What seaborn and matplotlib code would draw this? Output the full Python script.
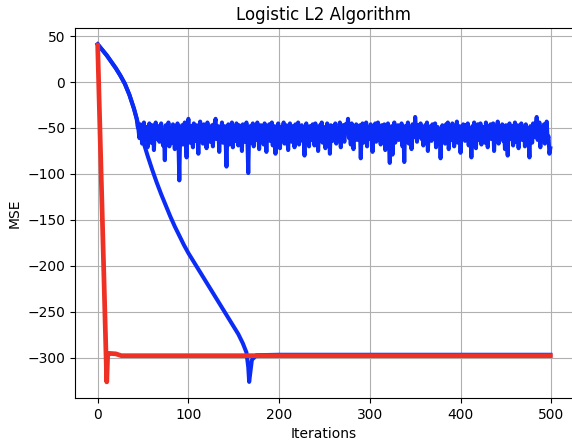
import numpy as np
import pandas as pd
import seaborn as sns
import matplotlib
matplotlib.use("Agg")
import matplotlib.pyplot as plt

# smooth blue run
smooth_iter = [0, 5, 10, 15, 20, 25, 30, 35, 40, 45, 50, 55, 60, 65, 70, 75, 80, 85, 90, 95,
               100, 110, 120, 130, 140, 150, 155, 160, 164, 166, 167, 168, 170, 175, 200,
               250, 300, 350, 400, 450, 499]
smooth_mse = [41, 35, 29, 22, 15, 7, -2, -14, -29, -47, -64, -80, -95, -109, -122, -134, -146, -157, -167, -177,
              -186, -202, -218, -234, -250, -266, -274, -284, -294, -310, -326, -318, -302, -297, -296.5,
              -296.5, -296.5, -296.5, -296.5, -296.5, -296.5]

# noisy blue run: same start, then jitters around -55 from iteration 44
noisy_start_iter = [0, 5, 10, 15, 20, 25, 30, 35, 40, 43]
noisy_start_mse = [41, 35, 29, 22, 15, 7, -2, -14, -29, -40]
noisy_iter = list(range(44, 500))
noisy_mse = [
    -48, -52, -61, -46, -55, -67, -50, -44, -58, -63, -49, -71, -54, -45, -60, -66, -47, -53, -74, -51, -44, -62, -57, -48,
    -65, -50, -45, -59, -69, -53, -85, -47, -56, -62, -44, -70, -51, -58, -66, -46, -54, -73, -49, -61, -45, -64, -107, -52,
    -57, -47, -68, -53, -44, -63, -82, -50, -40, -55, -66, -48, -59, -71, -45, -52, -64, -47, -57, -78, -50, -43, -61, -54,
    -67, -46, -58, -52, -72, -44, -60, -49, -65, -55, -47, -70, -53, -45, -40, -62, -56, -48, -76, -51, -59, -44, -66, -53,
    -48, -63, -92, -55, -46, -68, -51, -59, -44, -71, -57, -49, -64, -45, -53, -69, -47, -60, -52, -75, -46, -58, -65, -50,
    -44, -61, -99, -54, -48, -66, -52, -45, -70, -57, -49, -63, -44, -55, -73, -50, -47, -62, -56, -68, -45, -53, -76, -49,
    -59, -46, -64, -51, -44, -69, -55, -48, -78, -53, -61, -45, -57, -72, -49, -63, -52, -44, -67, -56, -47, -60, -74, -50,
    -45, -58, -65, -48, -53, -71, -46, -62, -55, -44, -68, -51, -59, -47, -64, -57, -80, -49, -45, -61, -54, -70, -48, -56,
    -63, -46, -52, -69, -45, -58, -50, -75, -55, -47, -62, -44, -66, -53, -49, -72, -57, -45, -60, -51, -78, -47, -56, -64,
    -48, -54, -45, -67, -58, -50, -62, -44, -71, -52, -47, -59, -65, -46, -55, -49, -40, -61, -53, -68, -45, -57, -73, -50,
    -56, -46, -63, -51, -58, -47, -83, -54, -45, -66, -52, -60, -44, -70, -49, -57, -62, -46, -53, -76, -48, -59, -45, -65,
    -51, -44, -60, -55, -68, -47, -53, -62, -46, -74, -50, -58, -45, -64, -88, -52, -48, -79, -56, -44, -66, -53, -59, -47,
    -63, -50, -56, -45, -70, -54, -87, -48, -61, -52, -44, -67, -57, -49, -73, -46, -55, -60, -38, -51, -65, -47, -58, -53,
    -45, -62, -50, -69, -54, -47, -59, -44, -75, -52, -56, -48, -64, -46, -61, -53, -45, -71, -57, -49, -66, -51, -83, -55,
    -47, -60, -52, -67, -46, -56, -44, -73, -58, -49, -63, -45, -54, -70, -50, -57, -43, -66, -53, -48, -77, -55, -61, -46,
    -52, -64, -47, -58, -45, -69, -55, -50, -82, -48, -61, -44, -57, -72, -51, -46, -63, -54, -45, -68, -59, -49, -55, -66,
    -44, -57, -71, -50, -53, -46, -62, -56, -45, -75, -52, -48, -60, -43, -67, -55, -50, -58, -46, -64, -53, -73, -47, -59,
    -80, -51, -45, -62, -56, -48, -69, -53, -44, -65, -57, -47, -72, -50, -59, -45, -63, -54, -49, -70, -46, -58, -52, -61,
    -82, -48, -55, -66, -45, -60, -51, -47, -38, -63, -54, -44, -71, -49, -58, -53, -46, -67, -56, -43, -62, -59, -78, -72,
]

# red run
red_iter = [0, 10, 11, 13, 20, 26, 100, 200, 300, 400, 499]
red_mse = [40, -326, -297, -295, -295.5, -297.5, -297.5, -297.5, -297.5, -297.5, -297.5]

smooth = pd.DataFrame({'iter': smooth_iter, 'mse': smooth_mse})
noisy = pd.DataFrame({'iter': noisy_start_iter + noisy_iter, 'mse': noisy_start_mse + noisy_mse})
red = pd.DataFrame({'iter': red_iter, 'mse': red_mse})

fig = plt.figure(figsize=(5.72, 4.4), dpi=100)
ax = fig.add_axes([75 / 572, 42 / 440, 498 / 572, 370 / 440])

sns.lineplot(data=noisy, x='iter', y='mse', color='#0b2cf6', linewidth=2.9, sort=False, estimator=None, ax=ax)
sns.lineplot(data=smooth, x='iter', y='mse', color='#0b2cf6', linewidth=2.9, sort=False, estimator=None, ax=ax)
sns.lineplot(data=red, x='iter', y='mse', color='#ee3124', linewidth=3.4, sort=False, estimator=None, ax=ax)

ax.set_xlim(-25, 524)
ax.set_ylim(-343.5, 58.7)
ax.set_xticks([0, 100, 200, 300, 400, 500])
ax.set_yticks([50, 0, -50, -100, -150, -200, -250, -300])
ax.grid(True, color='#b0b0b0', linewidth=0.8)
ax.set_axisbelow(True)

ax.set_title('Logistic L2 Algorithm')
ax.set_xlabel('Iterations')
ax.set_ylabel('MSE')

fig.savefig('out.png', dpi=100)
